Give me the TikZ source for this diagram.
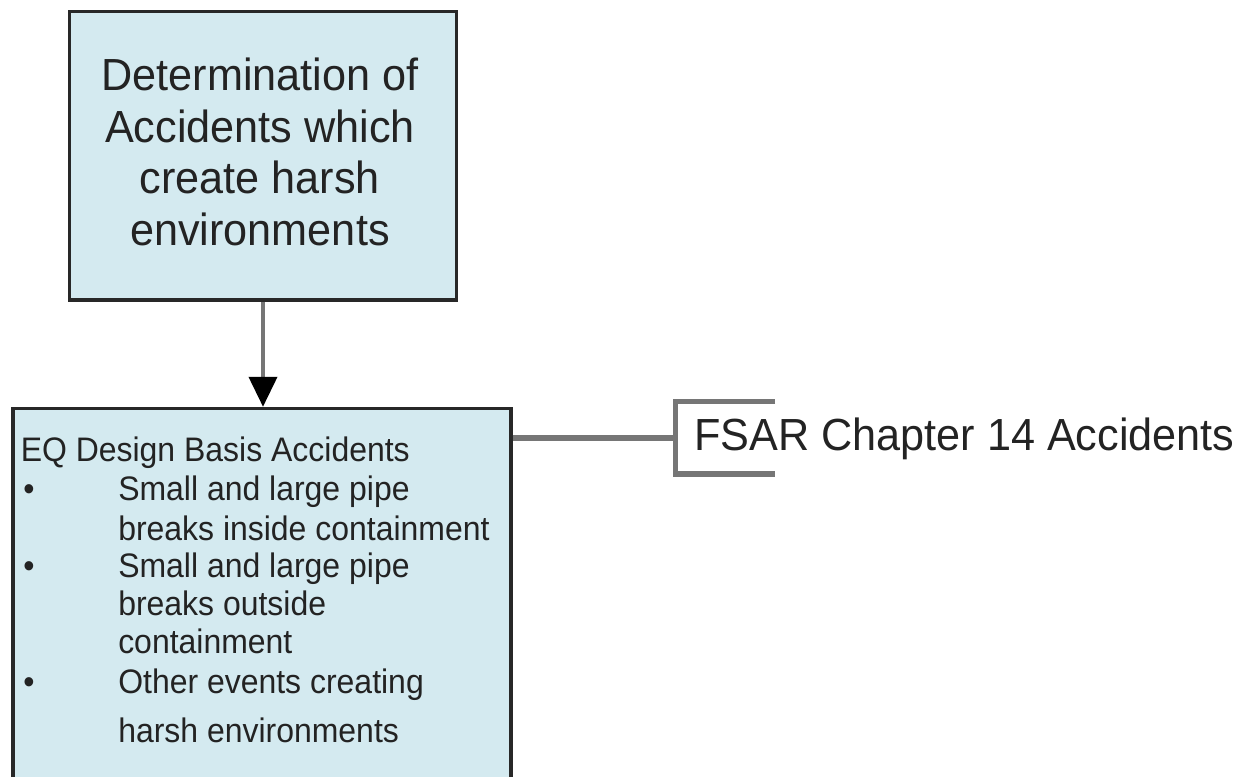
\documentclass[tikz,border=0pt]{standalone}
\usepackage{fontspec}
\setmainfont{Liberation Sans}
\newfontfamily\diafont{Liberation Sans}[FakeStretch=0.96]
\newfontfamily\listfont{Liberation Sans}[FakeStretch=0.94]
\usetikzlibrary{arrows.meta}
\definecolor{boxfill}{RGB}{212,234,240}
\definecolor{boxline}{RGB}{40,40,40}
\definecolor{linkgray}{RGB}{118,118,118}
\definecolor{txt}{RGB}{35,35,35}
\tikzset{
  box/.style={draw=boxline, fill=boxfill, line width=2.6pt, inner sep=0pt},
  ttxt/.style={font=\diafont\fontsize{33.75pt}{38pt}\selectfont, text=txt, inner sep=0pt, anchor=base},
  ltxt/.style={font=\listfont\fontsize{25.5pt}{30pt}\selectfont, text=txt, inner sep=0pt, anchor=base west},
  ftxt/.style={font=\diafont\fontsize{33.75pt}{38pt}\selectfont, text=txt, inner sep=0pt, anchor=base west},
  arrowline/.style={draw=linkgray, line width=3pt, -{Triangle[width=21pt,length=22.5pt,color=black]}},
  link/.style={draw=linkgray, line width=4.5pt},
  brk/.style={draw=linkgray, line width=4.2pt}
}
\begin{document}
\begin{tikzpicture}[x=0.75pt,y=-0.75pt]
\useasboundingbox (0,0) rectangle (1243,776);
\clip (0,0) rectangle (1243,776);

% boxes
\node[box, minimum width=290.25pt, minimum height=216.4pt] (det) at (263,155.75) {};
\node[box, minimum width=373.5pt, minimum height=293.6pt] (eq) at (262,604.25) {};

% top box text
\node[ttxt] (d1) at (260,90) {Determination of};
\node[ttxt] (d2) at (260,142) {Accidents which};
\node[ttxt] (d3) at (260,193) {create harsh};
\node[ttxt] (d4) at (260,245) {environments};

% bottom box text
\node[ltxt] (hd) at (20.5,461) {EQ Design Basis Accidents};
\node[ltxt] (b1) at (23,500) {•};
\node[ltxt] (l1) at (118,500) {Small and large pipe};
\node[ltxt] (l2) at (118,540) {breaks inside containment};
\node[ltxt] (b2) at (23,577) {•};
\node[ltxt] (l3) at (118,577) {Small and large pipe};
\node[ltxt] (l4) at (118,615) {breaks outside};
\node[ltxt] (l5) at (118,653) {containment};
\node[ltxt] (b3) at (23,693) {•};
\node[ltxt] (l6) at (118,693) {Other events creating};
\node[ltxt] (l7) at (118,742) {harsh environments};

% arrow
\draw[arrowline] (det.south) -- (det.south |- eq.north);

% annotation bracket
\coordinate (br) at (675.5,438);
\coordinate (btop) at (675.5,401.5);
\coordinate (bbot) at (675.5,474);
\coordinate (btopend) at (775,401.5);
\coordinate (bbotend) at (775,474);
\draw[brk] (btopend) -- (btop) -- (bbot) -- (bbotend);
\draw[link] (eq.east |- br) -- (br);
\node[ftxt] (fsar) at (694,450) {FSAR Chapter 14 Accidents};
\end{tikzpicture}
\end{document}
